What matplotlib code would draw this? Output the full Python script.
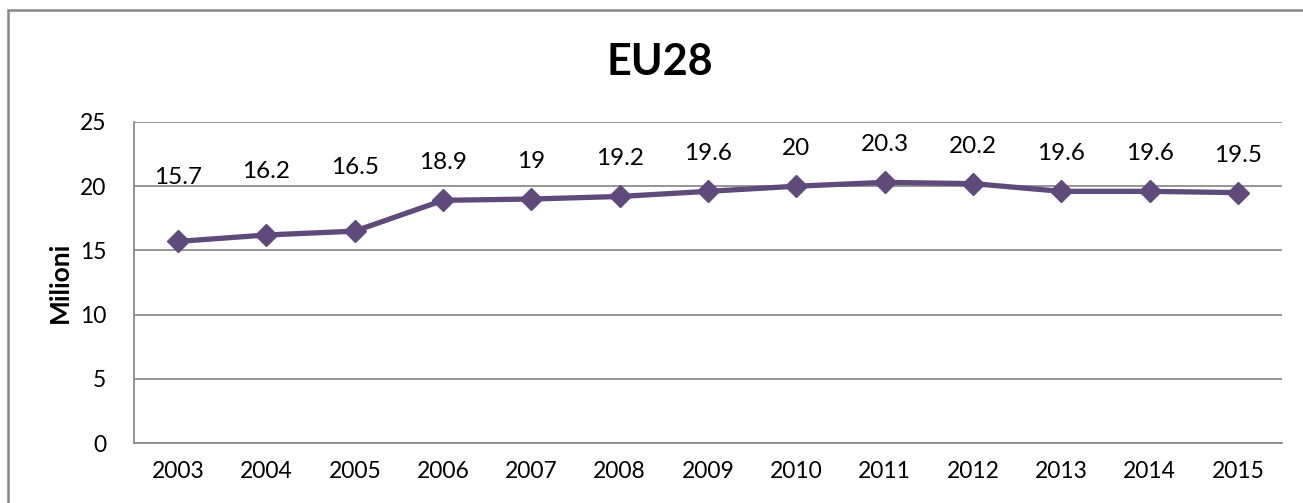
import matplotlib
matplotlib.use("Agg")
import matplotlib.pyplot as plt
from matplotlib.patches import Rectangle

years = ["2003", "2004", "2005", "2006", "2007", "2008", "2009",
         "2010", "2011", "2012", "2013", "2014", "2015"]
values = [15.7, 16.2, 16.5, 18.9, 19.0, 19.2, 19.6, 20.0, 20.3, 20.2, 19.6, 19.6, 19.5]
labels = ["15.7", "16.2", "16.5", "18.9", "19", "19.2", "19.6", "20", "20.3", "20.2", "19.6", "19.6", "19.5"]
yticks = [0, 5, 10, 15, 20, 25]

plt.rcParams['font.family'] = ['Lato', 'DejaVu Sans']

W, H = 1303, 503
fig = plt.figure(figsize=(W / 100, H / 100), dpi=100)

# outer chart frame
fig.patches.append(Rectangle((8 / W, -0.1), 1.2, (H - 10) / H + 0.1,
                             transform=fig.transFigure, fill=False,
                             edgecolor='#878787', linewidth=1.8))

ax = fig.add_axes([134 / W, 1 - 443 / H, (1282 - 134) / W, (443 - 122) / H])
x = list(range(len(years)))
color = '#604A7B'
ax.plot(x, values, color=color, linewidth=3.8, marker='D', markersize=11,
        markerfacecolor=color, markeredgecolor=color, zorder=3, clip_on=False)

# label offsets in points (first three are placed higher)
offsets = [46, 46, 46] + [27] * 10
for xi, v, lab, off in zip(x, values, labels, offsets):
    ax.annotate(lab, (xi, v), xytext=(0, off), textcoords='offset points',
                ha='center', va='center', fontsize=17.5, color='black')

ax.set_xlim(-0.5, len(years) - 0.5)
ax.set_ylim(0, 25)
ax.set_yticks(yticks)
ax.set_xticks(x)
ax.set_xticklabels(years)
ax.tick_params(axis='both', length=0, labelsize=16.5, colors='black')
ax.tick_params(axis='y', pad=20)
ax.tick_params(axis='x', pad=13)
ax.grid(axis='y', color='#8c8c8c', linewidth=1.3)
ax.set_axisbelow(True)
for s in ['top', 'right']:
    ax.spines[s].set_visible(False)
for s in ['left', 'bottom']:
    ax.spines[s].set_color('#8c8c8c')
    ax.spines[s].set_linewidth(1.3)

ax.set_ylabel("Milioni", fontsize=19, fontweight='bold', labelpad=6)
fig.text(660 / W, 1 - 62 / H, "EU28", fontsize=31, fontweight='bold',
         ha='center', va='center')

fig.savefig("out.png", dpi=100)
